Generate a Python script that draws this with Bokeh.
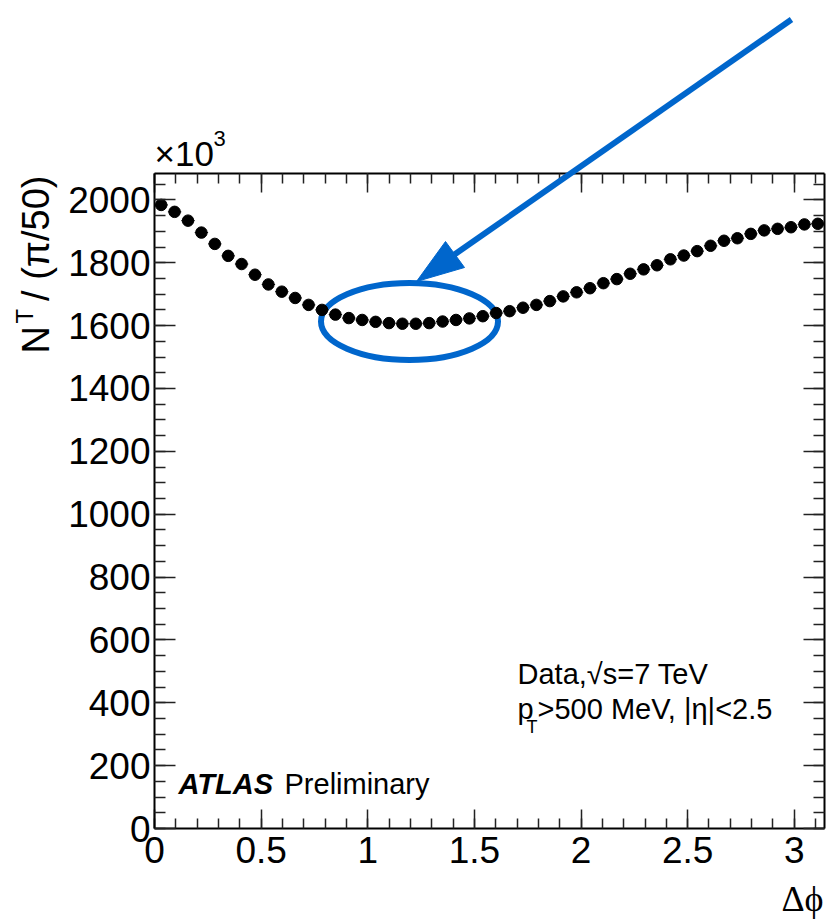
import numpy as np
from bokeh.plotting import figure
from bokeh.models import Range1d, LinearAxis, FixedTicker, Label, Arrow, PolyAnnotation
from bokeh.embed import file_html
from bokeh.resources import INLINE

# ---------------- data ----------------
N_BINS = 50                     # bins of width pi/50 over 0 .. pi
DPHI_MAX = np.pi
# N^T per (pi/50) bin, in units of 10^3
NT_THOUSANDS = [
    1984, 1962, 1934, 1896, 1860, 1822, 1796, 1762, 1731, 1708,
    1688, 1666, 1650, 1635, 1624, 1618, 1612, 1608, 1606, 1606,
    1608, 1613, 1618, 1623, 1630, 1640, 1646, 1657, 1666, 1678,
    1693, 1706, 1719, 1735, 1748, 1765, 1779, 1792, 1811, 1823,
    1837, 1854, 1870, 1878, 1892, 1903, 1908, 1913, 1922, 1924,
]
X_TICKS = [0, 0.5, 1, 1.5, 2, 2.5, 3]
X_TICK_LABELS = ["0", "0.5", "1", "1.5", "2", "2.5", "3"]
Y_TICKS = [0, 200, 400, 600, 800, 1000, 1200, 1400, 1600, 1800, 2000]
Y_TICK_LABELS = ["0", "200", "400", "600", "800", "1000", "1200", "1400",
                 "1600", "1800", "2000"]

# ---------------- layout ----------------
W, H = 827, 924
FL, FR, FT, FB = 154, 824, 173, 828        # plot box edges in pixels
X0, X1 = 0.0, DPHI_MAX
Y0, Y1 = 0.0, 2084.0
BLUE = "#0066cc"
FONT = "Liberation Sans"
BASELINE_FIX = 0.4     # em offset of Bokeh's alphabetic anchor seen in rendering


def px_x(px):
    return X0 + (px - FL) / (FR - FL) * (X1 - X0)


def px_y(py):
    return Y0 + (FB - py) / (FB - FT) * (Y1 - Y0)


bin_w = DPHI_MAX / N_BINS
centers = (np.arange(N_BINS) + 0.5) * bin_w
vals = np.array(NT_THOUSANDS, dtype=float)

# the drawing frame covers the whole canvas so nothing is clipped;
# the axes are pinned at the edges of the data box.
p = figure(width=W, height=H, output_backend="svg", toolbar_location=None,
           x_range=Range1d(px_x(0), px_x(W)), y_range=Range1d(px_y(H), px_y(0)),
           x_axis_location=None, y_axis_location=None,
           min_border=0, min_border_left=0, min_border_right=0,
           min_border_top=0, min_border_bottom=0)
p.background_fill_color = "white"
p.border_fill_color = "white"
p.outline_line_color = None
p.grid.visible = False

x_minor = [round(0.1 * k, 2) for k in range(32)]
y_minor = list(range(0, 2051, 50))


def make_axis(side, loc, ticks, minor, bounds, major_len, minor_len, labels=None):
    ax = LinearAxis(fixed_location=loc, bounds=bounds)
    ax.ticker = FixedTicker(ticks=ticks, minor_ticks=minor)
    ax.major_tick_in = major_len
    ax.major_tick_out = 0
    ax.minor_tick_in = minor_len
    ax.minor_tick_out = 0
    ax.axis_line_color = "black"
    ax.axis_line_width = 2
    ax.major_tick_line_color = "#222222"
    ax.major_tick_line_width = 1.5
    ax.minor_tick_line_color = "#222222"
    ax.minor_tick_line_width = 1.5
    if labels is not None:
        ax.major_label_overrides = {float(t): s for t, s in zip(ticks, labels)}
        ax.major_label_text_font = FONT
        ax.major_label_text_font_size = "37px"
        ax.major_label_text_color = "black"
    else:
        ax.major_label_text_color = None
        ax.major_label_standoff = 0
    p.add_layout(ax, side)
    return ax


xb = make_axis("below", Y0, X_TICKS, x_minor, (X0, X1), 19, 10, X_TICK_LABELS)
xb.major_label_standoff = 8
yl = make_axis("left", X0, Y_TICKS, y_minor, (Y0, Y1), 21, 11, Y_TICK_LABELS)
yl.major_label_standoff = 4
make_axis("above", Y1, X_TICKS, x_minor, (X0, X1), 19, 10)
make_axis("right", X1, Y_TICKS, y_minor, (Y0, Y1), 21, 11)

# annotation ellipse (drawn under the points)
p.ellipse(x=[px_x(409)], y=[px_y(321)], width=px_x(FL + 177), height=px_y(FB - 77),
          fill_color=None, line_color=BLUE, line_width=6)

# data: horizontal bin-width bars and markers
p.segment(x0=centers - bin_w / 2, x1=centers + bin_w / 2, y0=vals, y1=vals,
          line_color="black", line_width=1)
p.scatter(x=centers, y=vals, size=11.5, marker="circle",
          fill_color="black", line_color="black")

# arrow
p.add_layout(Arrow(end=None, x_start=px_x(791), y_start=px_y(19),
                   x_end=px_x(454), y_end=px_y(254),
                   line_color=BLUE, line_width=6))
p.add_layout(PolyAnnotation(xs=[px_x(416), px_x(445), px_x(464)],
                            ys=[px_y(281), px_y(241), px_y(267)],
                            fill_color=BLUE, fill_alpha=1.0,
                            line_color=BLUE, line_alpha=1.0, line_width=1))


def lab(text, px, py, size, font=FONT, style="normal", align="left", rotated=False):
    # px, py: wanted pixel position of the text's baseline anchor
    if rotated:
        px = px - BASELINE_FIX * size
    else:
        py = py - BASELINE_FIX * size
    return Label(x=px_x(px), y=px_y(py), text=text, text_font=font,
                 text_font_size=f"{size}px", text_font_style=style,
                 text_align=align, text_baseline="alphabetic",
                 angle=(np.pi / 2 if rotated else 0.0), text_color="black")


# exponent
p.add_layout(lab("\u00d710", 154, 167, 35))
p.add_layout(lab("3", 213, 147, 22))

# y-axis title: N^T / (pi/50)
p.add_layout(lab("N", 51, 353, 38, rotated=True))
p.add_layout(lab("T", 34, 323, 24, rotated=True))
p.add_layout(lab("/ (\u03c0/50)", 51, 175, 38, align="right", rotated=True))

# x-axis title
p.add_layout(lab("\u0394\u03d5", 823, 913, 36, font="Liberation Serif", align="right"))

# texts in the box
p.add_layout(lab("Data,\u221as=7 TeV", 517, 685, 29))
p.add_layout(lab("p", 517, 720, 29))
p.add_layout(lab("T", 526, 734, 18))
p.add_layout(lab(">500 MeV, |\u03b7|<2.5", 537, 720, 29))
p.add_layout(lab("ATLAS", 178, 795, 29, style="bold italic"))
p.add_layout(lab("Preliminary", 284, 795, 29))

open("out.html", "w").write(file_html(p, INLINE))
